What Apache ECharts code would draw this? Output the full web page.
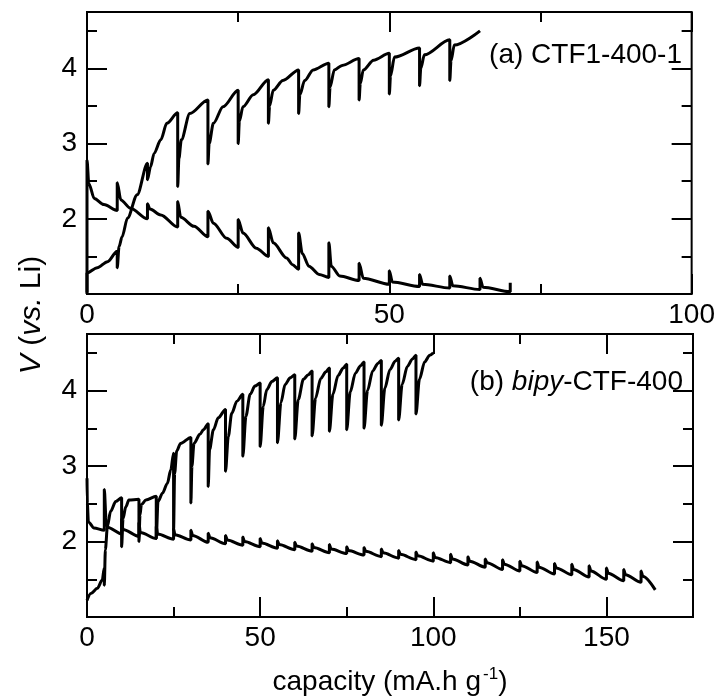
<!DOCTYPE html>
<html>
<head>
<meta charset="utf-8">
<script src="https://cdn.jsdelivr.net/npm/echarts@6/dist/echarts.min.js"></script>
<style>
  html, body { margin: 0; background: #fff; }
  #chart { width: 718px; height: 698px; }
</style>
</head>
<body>
<div id="chart"></div>
<script>
// points are [capacity (mA.h/g), V vs. Li]
// (a) CTF1-400-1
const chargeA = [
  [0, 1.02], [0, 1.28], [1.7, 1.35], [3.4, 1.43], [5, 1.57],
  [5, 1.35], [5.3, 1.63], [5.8, 1.76], [6.7, 2.01], [8.3, 2.32], [10, 2.74],
  [10, 2.52], [10.5, 2.69], [11.1, 2.87], [12.2, 3.05], [13.2, 3.27], [15, 3.41],
  [15, 2.43], [15.2, 2.8], [15.6, 3.05], [17, 3.4], [20, 3.58],
  [20, 2.73], [20.2, 3.0], [20.9, 3.27], [22.5, 3.49], [25, 3.71],
  [25, 3.0], [25.2, 3.3], [25.8, 3.49], [27.5, 3.65], [30, 3.85],
  [30, 3.27], [30.2, 3.5], [30.8, 3.71], [32.4, 3.84], [35, 3.98],
  [35, 3.4], [35.2, 3.65], [36, 3.84], [37.4, 3.98], [40, 4.07],
  [40, 3.49], [40.2, 3.75], [40.9, 3.98], [42.2, 4.04], [45, 4.13],
  [45, 3.58], [45.2, 3.8], [45.7, 3.98], [47.4, 4.11], [50, 4.2],
  [50, 3.66], [50.2, 3.9], [50.85, 4.15], [55, 4.27],
  [55, 3.77], [55.2, 4.0], [55.8, 4.18], [60, 4.38],
  [60, 3.84], [60.2, 4.1], [60.75, 4.31], [65, 4.5]
];
const dischargeA = [
  [0, 1.0], [0, 2.78], [0.3, 2.47], [1.2, 2.27], [2.8, 2.19], [5, 2.11],
  [5, 2.48], [5.6, 2.25], [7.2, 2.14], [10, 2.0],
  [10, 2.2], [10.4, 2.13], [12.2, 2.05], [15, 1.89],
  [15, 2.23], [15.5, 2.02], [17.7, 1.9], [20, 1.76],
  [20, 2.1], [20.9, 1.94], [23.1, 1.74], [25, 1.62],
  [25, 1.99], [25.8, 1.81], [28, 1.61], [30, 1.5],
  [30, 1.88], [30.8, 1.68], [33, 1.48], [34, 1.39], [35, 1.33],
  [35, 1.81], [35.6, 1.54], [36.7, 1.37], [38.4, 1.26], [40, 1.22],
  [40, 1.68], [40.4, 1.37], [41.8, 1.24], [45, 1.18],
  [45, 1.41], [45.7, 1.21], [50, 1.13],
  [50, 1.31], [50.5, 1.16], [55, 1.1],
  [55, 1.26], [55.5, 1.13], [60, 1.08],
  [60, 1.24], [60.5, 1.11], [65, 1.06],
  [65, 1.21], [65.5, 1.09], [70, 1.03], [70, 1.15]
];

// (b) bipy-CTF-400
const chargeB = [
  [0, 1.22], [1.1, 1.31], [3, 1.38], [4.4, 1.49], [5, 1.65],
  [5, 1.42], [5.3, 1.89], [5.9, 2.2], [6.8, 2.4], [8.3, 2.53], [10, 2.58],
  [10, 1.93], [10.4, 2.3], [11.2, 2.46], [12.1, 2.55], [15, 2.56],
  [15, 2.0], [15.3, 2.35], [15.7, 2.49], [17, 2.55], [20, 2.6],
  [20, 2.04], [20.5, 2.53], [21.8, 2.64], [23.2, 2.77], [24.2, 2.95], [25, 3.17],
  [25, 2.15], [25.3, 2.9], [25.9, 3.2], [27, 3.3], [30, 3.38],
  [30, 2.51], [30.3, 3.0], [30.9, 3.3], [32.6, 3.42], [33.6, 3.48], [35, 3.56],
  [35, 2.73], [35.4, 3.22], [36.5, 3.48], [37.9, 3.64], [40, 3.75],
  [40, 2.93], [40.8, 3.39], [41.8, 3.7], [43.3, 3.86], [45, 3.95],
  [45, 3.13], [45.9, 3.66], [47.1, 3.95], [48.5, 4.06], [50, 4.1],
  [50, 3.26], [50.9, 3.79], [51.9, 4.01], [53.4, 4.12], [55, 4.17],
  [55, 3.31], [56, 3.84], [57.2, 4.08], [58.7, 4.17], [60, 4.21],
  [60, 3.36], [61, 3.88], [62.5, 4.15], [63.9, 4.21], [65, 4.26],
  [65, 3.4], [66, 3.9], [67.5, 4.16], [69, 4.25], [70, 4.3],
  [70, 3.46], [71, 3.95], [72.5, 4.2], [74, 4.3], [75, 4.35],
  [75, 3.48], [76, 3.98], [77.5, 4.23], [79, 4.33], [80, 4.38],
  [80, 3.5], [81, 4.0], [82.5, 4.26], [84, 4.36], [85, 4.4],
  [85, 3.54], [86, 4.03], [87.5, 4.28], [89, 4.39], [90, 4.43],
  [90, 3.61], [91, 4.08], [92.5, 4.32], [94, 4.42], [95, 4.47],
  [95, 3.69], [96, 4.15], [97.5, 4.38], [99, 4.47], [100, 4.5]
];
const dischargeB = [
  [0, 2.84], [0.1, 2.5], [0.4, 2.26], [2, 2.18], [5, 2.15],
  [5, 2.69], [5.5, 2.3], [5.9, 2.19], [10, 2.1],
  [10, 2.3], [10.4, 2.16], [15, 2.07],
  [15, 2.25], [15.4, 2.12], [20, 2.04],
  [20, 2.2], [20.4, 2.1], [25, 2.03],
  [25, 2.17], [25.4, 2.09], [30, 2.02],
  [30, 2.15], [30.5, 2.08], [35, 1.99],
  [35, 2.11], [35.5, 2.05], [40, 1.97],
  [40, 2.08], [40.5, 2.02], [45, 1.95],
  [45, 2.06], [45.5, 2.0], [50, 1.93],
  [50, 2.04], [50.5, 1.98], [55, 1.91],
  [55, 2.01], [55.5, 1.96], [60, 1.89],
  [60, 1.99], [60.5, 1.94], [65, 1.87],
  [65, 1.97], [65.5, 1.92], [70, 1.85],
  [70, 1.96], [70.5, 1.9], [75, 1.84],
  [75, 1.93], [75.5, 1.88], [80, 1.82],
  [80, 1.92], [80.5, 1.87], [85, 1.8],
  [85, 1.9], [85.5, 1.85], [90, 1.78],
  [90, 1.88], [90.5, 1.83], [95, 1.76],
  [95, 1.86], [95.5, 1.81], [100, 1.74],
  [100, 1.85], [100.5, 1.79], [105, 1.72],
  [105, 1.83], [105.5, 1.77], [110, 1.69],
  [110, 1.8], [110.5, 1.74], [115, 1.66],
  [115, 1.77], [115.5, 1.72], [120, 1.63],
  [120, 1.76], [120.5, 1.7], [125, 1.61],
  [125, 1.74], [125.5, 1.68], [130, 1.59],
  [130, 1.73], [130.5, 1.66], [135, 1.57],
  [135, 1.71], [135.5, 1.65], [140, 1.56],
  [140, 1.7], [140.5, 1.63], [145, 1.53],
  [145, 1.68], [145.5, 1.61], [150, 1.5],
  [150, 1.65], [150.5, 1.58], [155, 1.48],
  [155, 1.63], [155.5, 1.56], [160, 1.46],
  [160, 1.61], [160.5, 1.54], [164.1, 1.36]
];

// tick labels that are printed
const xLabelsA = [0, 50, 100];
const xLabelsB = [0, 50, 100, 150];
const yLabels = [2, 3, 4];

const FONT = '"Liberation Sans", Arial, sans-serif';
const chart = echarts.init(document.getElementById('chart'));

// major (long ticks) + minor (short ticks) axes, mirrored on both sides of the frame
function makeAxes(gridIndex, side1, side2, min, max, major, minor, labels, margin) {
  const base = {
    gridIndex, type: 'value', min, max,
    axisLine: { show: false, onZero: false },
    splitLine: { show: false },
  };
  const tick = (len) => ({ inside: true, length: len, lineStyle: { color: '#000', width: 2 } });
  return [
    Object.assign({}, base, {
      position: side1, interval: major, axisTick: tick(20),
      axisLabel: {
        color: '#000', fontSize: 28, fontFamily: FONT, margin,
        formatter: (v) => (labels.indexOf(v) >= 0 ? String(v) : '')
      }
    }),
    Object.assign({}, base, { position: side1, interval: minor, axisTick: tick(10), axisLabel: { show: false } }),
    Object.assign({}, base, { position: side2, interval: major, axisTick: tick(20), axisLabel: { show: false } }),
    Object.assign({}, base, { position: side2, interval: minor, axisTick: tick(10), axisLabel: { show: false } })
  ];
}

function curve(data, idx) {
  return {
    type: 'line', data, xAxisIndex: idx, yAxisIndex: idx,
    showSymbol: false, silent: true,
    smooth: 0.3, smoothMonotone: 'x',
    lineStyle: { color: '#000', width: 3 }
  };
}

const option = {
  animation: false,
  grid: [
    { left: 87, top: 12, width: 606, height: 282, show: true, borderColor: '#000', borderWidth: 2 },
    { left: 87, top: 334, width: 606, height: 283, show: true, borderColor: '#000', borderWidth: 2 }
  ],
  xAxis: [].concat(
    makeAxes(0, 'bottom', 'top', 0, 100, 50, 25, xLabelsA, 7),
    makeAxes(1, 'bottom', 'top', 0, 175, 50, 25, xLabelsB, 7)
  ),
  yAxis: [].concat(
    makeAxes(0, 'left', 'right', 1, 4.75, 1, 0.5, yLabels, 10),
    makeAxes(1, 'left', 'right', 1, 4.75, 1, 0.5, yLabels, 10)
  ),
  series: [
    curve(chargeA, 0),
    curve(dischargeA, 0),
    curve(chargeB, 4),
    curve(dischargeB, 4)
  ],
  graphic: [
    {
      type: 'text', x: 32, y: 315, rotation: Math.PI / 2,
      style: {
        text: '{i|V} ({i|vs.} Li)',
        font: '30px ' + FONT, fill: '#000', align: 'center', verticalAlign: 'middle',
        rich: { i: { fontStyle: 'italic', fontSize: 30, fontFamily: FONT } }
      }
    },
    {
      type: 'text', x: 390, y: 682,
      style: {
        text: 'capacity (mA.h g{sup|-1})',
        font: '28px ' + FONT, fill: '#000', align: 'center', verticalAlign: 'middle',
        rich: { sup: { fontSize: 17, fontFamily: FONT, padding: [0, 0, 16, 2] } }
      }
    },
    {
      type: 'text', x: 682, y: 55,
      style: { text: '(a) CTF1-400-1', font: '28px ' + FONT, fill: '#000', align: 'right', verticalAlign: 'middle' }
    },
    {
      type: 'text', x: 683, y: 382,
      style: {
        text: '(b) {i|bipy}-CTF-400',
        font: '28px ' + FONT, fill: '#000', align: 'right', verticalAlign: 'middle',
        rich: { i: { fontStyle: 'italic', fontSize: 28, fontFamily: FONT } }
      }
    }
  ]
};

chart.setOption(option);
</script>
</body>
</html>
